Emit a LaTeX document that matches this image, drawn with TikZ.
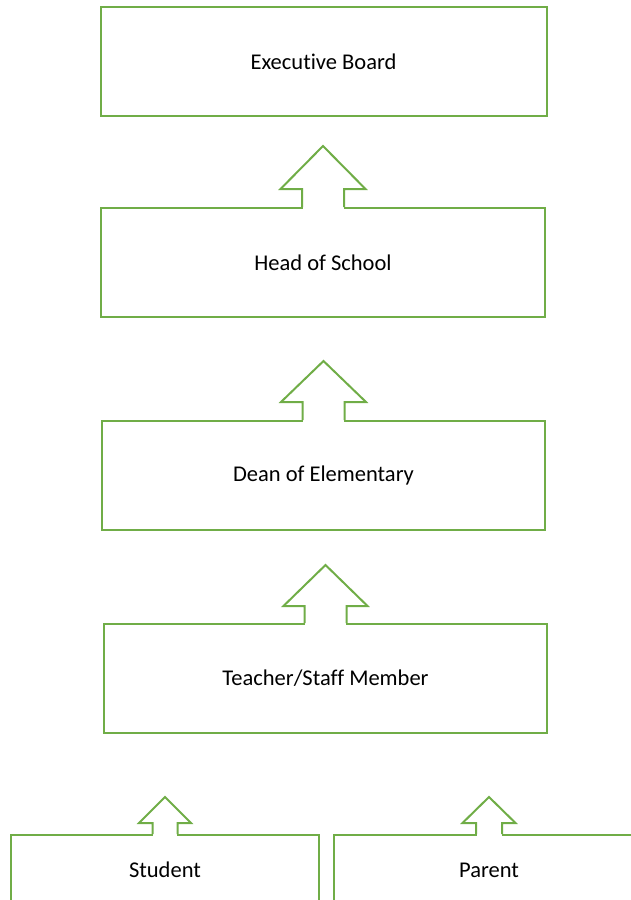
\documentclass[tikz,border=0pt]{standalone}
\usepackage{fontspec}
\setmainfont{Carlito}[RawFeature={-liga}]
\usetikzlibrary{calc}
\definecolor{grn}{RGB}{112,173,71}
\newcommand{\blockarrowup}[5]{%
  % #1 node, #2 shaft half width, #3 head half width, #4 shaft length, #5 head length
  \fill[white] ($(#1.north)+(-#2+0.5,3)$) -- ($(#1.north)+(-#2+0.5,-#4)$) -- ($(#1.north)+(#2-0.5,-#4)$) -- ($(#1.north)+(#2-0.5,3)$) -- cycle;
  \draw[arr] ($(#1.north)+(-#2,0)$) -- ($(#1.north)+(-#2,-#4)$) -- ($(#1.north)+(-#3,-#4)$) -- ($(#1.north)+(0,-#4-#5)$) -- ($(#1.north)+(#3,-#4)$) -- ($(#1.north)+(#2,-#4)$) -- ($(#1.north)+(#2,0)$);
}
\begin{document}
\begin{tikzpicture}[x=1pt,y=-1pt,
  box/.style={draw=grn,line width=2pt,fill=white,inner sep=0pt,font=\fontsize{22.5}{26}\selectfont},
  arr/.style={draw=grn,line width=2pt,line join=miter}]
\useasboundingbox (0,0) rectangle (630,900);
% boxes
\node[box,minimum width=446pt,minimum height=109pt] (eb) at (323.5,61.5) {Executive Board};
\node[box,minimum width=444pt,minimum height=109pt] (hs) at (323,262.5) {Head of School};
\node[box,minimum width=443pt,minimum height=109pt] (de) at (323.5,475.5) {Dean of Elementary};
\node[box,minimum width=443pt,minimum height=109pt] (ts) at (325.5,678.5) {Teacher/Staff Member};
\node[box,minimum width=308pt,minimum height=70pt,anchor=north west] (st) at (10,834) {Student};
\node[box,minimum width=310pt,minimum height=70pt,anchor=north west] (pa) at (333,834) {Parent};
% arrows
\blockarrowup{hs}{21}{42.5}{18}{43}
\blockarrowup{de}{21}{42.5}{18}{41}
\blockarrowup{ts}{21}{42}{17}{41}
\blockarrowup{st}{12.5}{26}{11}{26}
\blockarrowup{pa}{13}{26.5}{11}{26}
\end{tikzpicture}
\end{document}
